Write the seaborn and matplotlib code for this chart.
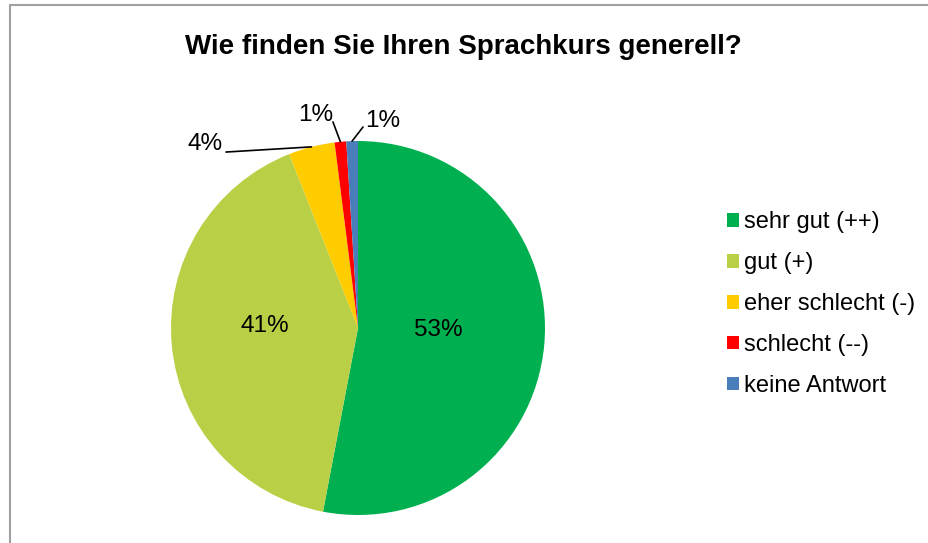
import matplotlib
matplotlib.use("Agg")
import matplotlib.pyplot as plt
import seaborn as sns
import numpy as np
from matplotlib.lines import Line2D

categories = ["sehr gut (++)", "gut (+)", "eher schlecht (-)", "schlecht (--)", "keine Antwort"]
shares = [53, 41, 4, 1, 1]
pct_labels = ["53%", "41%", "4%", "1%", "1%"]
colors = ["#00B050", "#B9CF45", "#FFCC00", "#FF0000", "#4A7EBB"]

sns.set_theme(style="white")
plt.rcParams["font.family"] = ["Liberation Sans", "DejaVu Sans"]
plt.rcParams["text.color"] = "black"

fig = plt.figure(figsize=(9.29, 5.43), dpi=100)
fig.patch.set_facecolor("white")

# pie area: centre ~(358, 328) px, radius ~187 px
ax = fig.add_axes([171 / 929, (543 - 515) / 543, 374 / 929, 374 / 543])
wedges, _ = ax.pie(shares, colors=colors, startangle=90, counterclock=False,
                   radius=1, wedgeprops=dict(linewidth=0))
ax.set_xlim(-1, 1)
ax.set_ylim(-1, 1)
ax.set_aspect("equal")
ax.axis("off")

# inside labels for the two big slices
inside_pos = [(0.428, -0.011), (-0.497, 0.011)]
for (x, y), lab in zip(inside_pos, pct_labels[:2]):
    ax.text(x, y, lab, ha="center", va="center", fontsize=17.5, color="black")

# outside labels with leader lines for the small slices
outside_text = [(-0.818, 0.985), (-0.225, 1.14), (0.134, 1.105)]
line_start = [(-0.706, 0.941), (-0.134, 1.102), (0.027, 1.075)]
for w, (tx, ty), (sx, sy), lab in zip(wedges[2:], outside_text, line_start, pct_labels[2:]):
    mid = np.deg2rad((w.theta1 + w.theta2) / 2)
    ex, ey = np.cos(mid), np.sin(mid)
    ax.add_line(Line2D([sx, ex], [sy, ey], color="black", lw=1.2, clip_on=False))
    ax.text(tx, ty, lab, ha="center", va="center", fontsize=17.5, color="black")

fig.text(463 / 929, 1 - 47 / 543, "Wie finden Sie Ihren Sprachkurs generell?",
         ha="center", va="center", fontsize=20, fontweight="bold", color="black")

leg = fig.legend(wedges, categories, loc="upper left",
                 bbox_to_anchor=(718 / 929, 1 - 202 / 543), frameon=False,
                 fontsize=17, handlelength=0.5, handleheight=0.5,
                 handletextpad=0.2, labelspacing=0.8, borderaxespad=0)
for t in leg.get_texts():
    t.set_color("black")

# chart frame (left and top edges visible)
fig.add_artist(Line2D([10.5 / 929, 10.5 / 929], [0, 1 - 5 / 543], color="#A0A0A0", lw=1.5))
fig.add_artist(Line2D([10.5 / 929, 1], [1 - 5 / 543, 1 - 5 / 543], color="#A0A0A0", lw=1.5))

fig.savefig("out.png", dpi=100, facecolor="white")
